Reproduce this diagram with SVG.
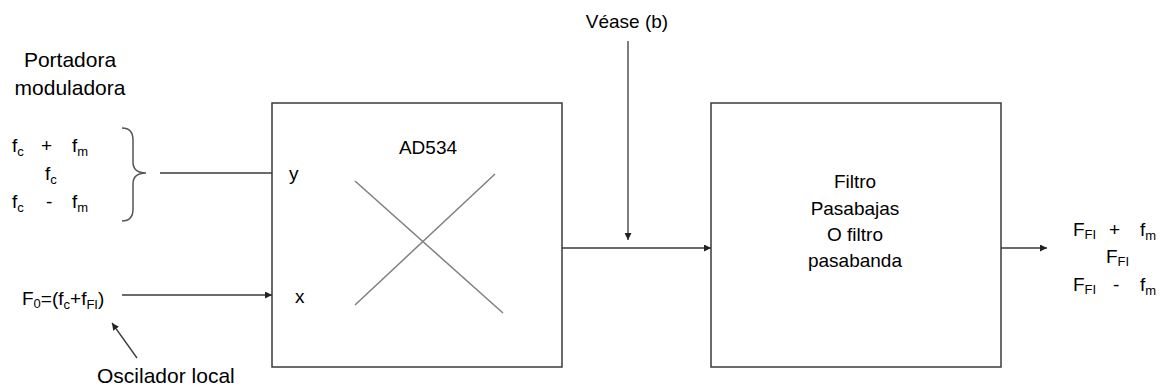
<svg xmlns="http://www.w3.org/2000/svg" width="1167" height="390" viewBox="0 0 1167 390">
  <style>
    text { font-family: "Liberation Sans", Arial, sans-serif; fill: #000; }
    .lbl { font-size: 19px; }
    .big { font-size: 21px; }
    .sub { font-size: 13px; }
    .box { fill: #fff; stroke: #3a3a3a; stroke-width: 1.5; }
    .wire { fill: none; stroke: #3a3a3a; stroke-width: 1.3; }
    .cross { stroke: #808080; stroke-width: 1.5; }
    .brace { fill: none; stroke: #555; stroke-width: 1.5; }
  </style>
  <defs>
    <marker id="arrow" viewBox="0 0 10 10" refX="10" refY="5" markerWidth="7" markerHeight="7" markerUnits="userSpaceOnUse" orient="auto">
      <path d="M0,0 L10,5 L0,10 z" fill="#222"/>
    </marker>
  </defs>

  <rect width="1167" height="390" fill="#fff"/>

  <!-- input signal labels -->
  <g id="carrier-label">
    <text class="big" x="70" y="67" text-anchor="middle">Portadora</text>
    <text class="big" x="70" y="95" text-anchor="middle">moduladora</text>
  </g>

  <g id="input-frequencies">
    <text class="lbl" x="12" y="152">f<tspan class="sub" dy="4">c</tspan></text>
    <text class="lbl" x="41" y="152">+</text>
    <text class="lbl" x="72" y="152">f<tspan class="sub" dy="4">m</tspan></text>
    <text class="lbl" x="45" y="180">f<tspan class="sub" dy="4">c</tspan></text>
    <text class="lbl" x="12" y="208">f<tspan class="sub" dy="4">c</tspan></text>
    <text class="lbl" x="46" y="208">-</text>
    <text class="lbl" x="72" y="208">f<tspan class="sub" dy="4">m</tspan></text>
    <path class="brace" d="M122,128 Q133,128 133,140 L133,162 Q133,173 146,173 Q133,173 133,184 L133,209 Q133,221 122,221"/>
  </g>

  <g id="local-oscillator">
    <text class="lbl" x="22" y="305">F<tspan class="sub" font-size="15" dy="3">0</tspan><tspan dy="-3">=(f</tspan><tspan class="sub" dy="4">c</tspan><tspan dy="-4">+f</tspan><tspan class="sub" dy="4">FI</tspan><tspan dy="-4">)</tspan></text>
    <text class="big" x="97" y="383">Oscilador local</text>
  </g>

  <!-- multiplier -->
  <g id="ad534">
    <rect class="box" x="272" y="103" width="290" height="264"/>
    <text class="lbl" x="428" y="154" text-anchor="middle">AD534</text>
    <text class="lbl" x="289" y="180">y</text>
    <text class="lbl" x="295" y="303">x</text>
    <line class="cross" x1="355" y1="181" x2="503" y2="313"/>
    <line class="cross" x1="355" y1="305" x2="495" y2="174"/>
  </g>

  <!-- filter -->
  <g id="filter">
    <rect class="box" x="711" y="103" width="290" height="264"/>
    <text class="lbl" x="855" y="188" text-anchor="middle">Filtro</text>
    <text class="lbl" x="855" y="215" text-anchor="middle">Pasabajas</text>
    <text class="lbl" x="855" y="241" text-anchor="middle">O filtro</text>
    <text class="lbl" x="855" y="267" text-anchor="middle">pasabanda</text>
  </g>

  <g id="see-b">
    <text class="lbl" x="627" y="28" text-anchor="middle">Véase (b)</text>
  </g>

  <!-- output spectrum -->
  <g id="output-frequencies">
    <text class="lbl" x="1073" y="236">F<tspan class="sub" dy="3">FI</tspan></text>
    <text class="lbl" x="1109" y="236">+</text>
    <text class="lbl" x="1140" y="236">f<tspan class="sub" dy="4">m</tspan></text>
    <text class="lbl" x="1106" y="263">F<tspan class="sub" dy="3">FI</tspan></text>
    <text class="lbl" x="1073" y="291">F<tspan class="sub" dy="3">FI</tspan></text>
    <text class="lbl" x="1113" y="291">-</text>
    <text class="lbl" x="1140" y="291">f<tspan class="sub" dy="4">m</tspan></text>
  </g>

  <!-- connectors -->
  <g id="connectors">
    <line class="wire" x1="160" y1="173" x2="272" y2="173"/>
    <line class="wire" x1="122" y1="295" x2="272" y2="295" marker-end="url(#arrow)"/>
    <line class="wire" x1="137" y1="358" x2="112" y2="323" marker-end="url(#arrow)"/>
    <line class="wire" x1="562" y1="248" x2="711" y2="248" marker-end="url(#arrow)"/>
    <line class="wire" x1="628" y1="41" x2="628" y2="240" marker-end="url(#arrow)"/>
    <line class="wire" x1="1001" y1="248" x2="1047" y2="248" marker-end="url(#arrow)"/>
  </g>
</svg>
